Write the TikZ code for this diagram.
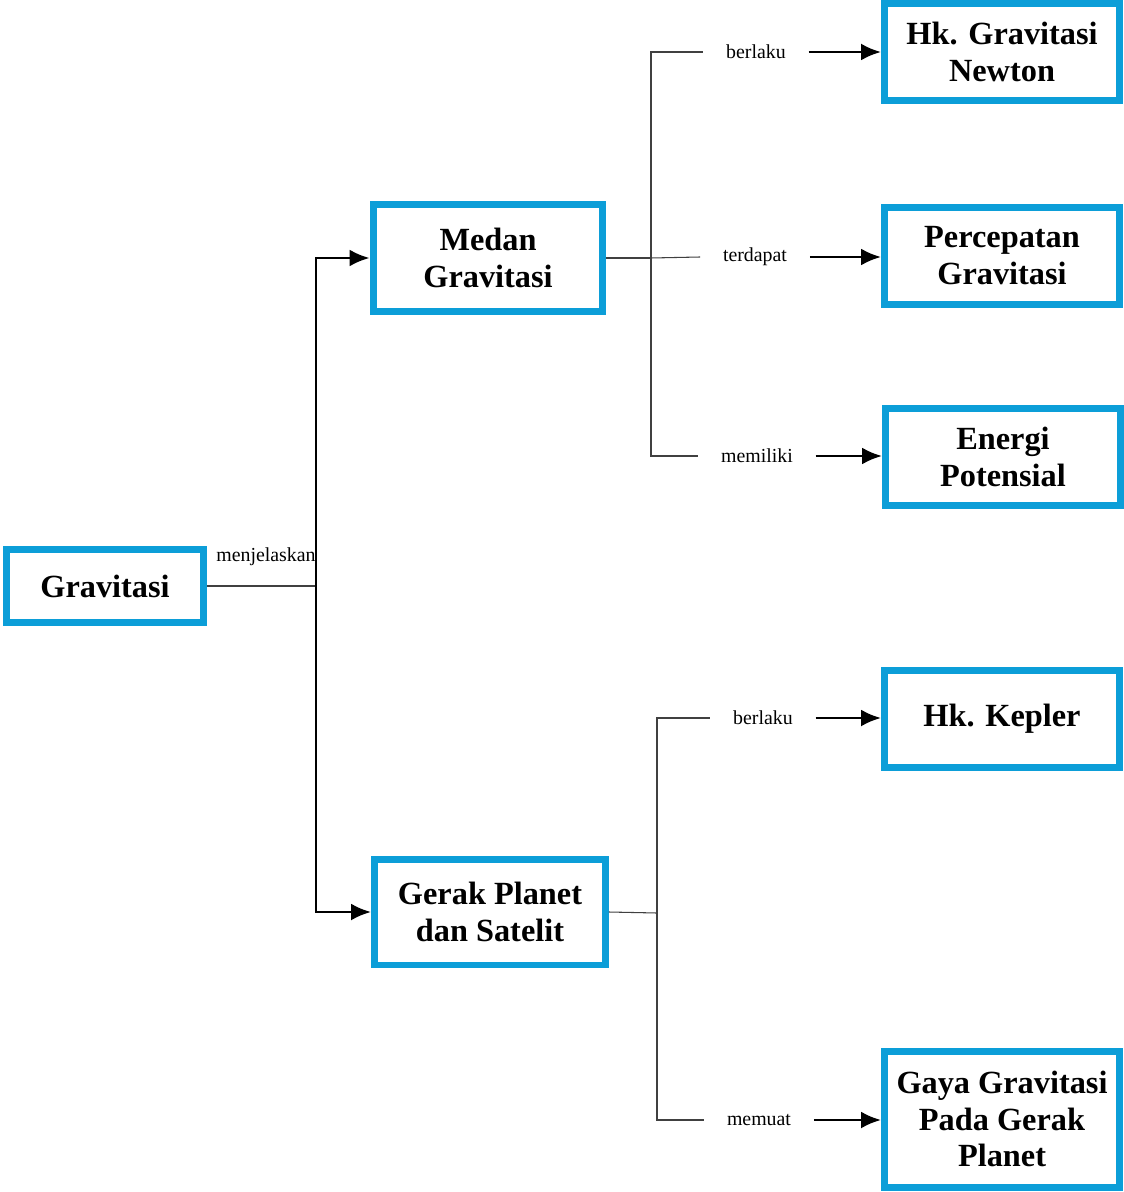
\documentclass[tikz,border=0pt]{standalone}
\usepackage{fontspec}
\setmainfont{Liberation Serif}
\usetikzlibrary{arrows.meta, calc}
\definecolor{boxblue}{RGB}{12,158,216}

\begin{document}
\begin{tikzpicture}[x=0.02cm, y=-0.02cm, >=Latex, line join=miter,
	konsep/.style={draw=boxblue, line width=0.14cm, fill=white, align=center,
		font=\fontsize{18.4}{21}\selectfont\bfseries, inner sep=0pt},
	kanan/.style={minimum width=4.7cm, minimum height=1.94cm},
	ket/.style={font=\fontsize{11.3}{13}\selectfont, inner xsep=0.45cm, inner ysep=2pt},
	garis/.style={draw=black!75, line width=0.6pt},
	panah/.style={-{Latex[length=0.4cm,width=0.34cm]}, line width=1.6pt}]

\useasboundingbox (0,0) rectangle (1124,1192);

% ================= concepts =================
\node[konsep, minimum width=3.94cm, minimum height=1.48cm] (grav) at (105,586) {Gravitasi};
\node[konsep, minimum width=4.6cm, minimum height=2.14cm] (medan) at (488,258) {Medan\\Gravitasi};
\node[konsep, minimum width=4.62cm, minimum height=2.12cm] (gerak) at (490,912) {Gerak Planet\\dan Satelit};

\node[konsep, kanan] (newton) at (1002,52) {Hk. Gravitasi\\Newton};
\node[konsep, kanan] (percepatan) at (1002,256) {Percepatan\\Gravitasi};
\node[konsep, kanan] (energi) at (1003,457) {Energi\\Potensial};
\node[konsep, kanan] (kepler) at (1002,719) {Hk. Kepler};
\node[konsep, kanan, minimum height=2.72cm] (gaya) at (1002,1119) {Gaya Gravitasi\\Pada Gerak\\Planet};

% ================= Gravitasi -> two branches =================
\coordinate (b1) at (316,586);
\draw[garis] (grav.east) -- (b1);
\node[font=\fontsize{11.3}{13}\selectfont] (lmenj) at (266,557) {menjelaskan};
\draw[panah] (b1) |- (medan.west);
\draw[panah] (b1) |- (gerak.west);

% ================= Medan Gravitasi =================
\coordinate (j1) at (651,258);
\node[ket] (l1) at (756,52) {berlaku};
\node[ket] (l2) at (755,257) {terdapat};
\node[ket] (l3) at (757,456) {memiliki};
\draw[garis] (medan.east) -- (j1);
\draw[garis] (j1) |- (l1.west);
\draw[garis] (j1) -- (l2.west);
\draw[garis] (j1) |- (l3.west);
\draw[panah] (l1.east) -- (l1.east -| newton.west);
\draw[panah] (l2.east) -- (l2.east -| percepatan.west);
\draw[panah] (l3.east) -- (l3.east -| energi.west);

% ================= Gerak Planet dan Satelit =================
\coordinate (j2) at (657,913);
\node[ket] (l4) at (763,718) {berlaku};
\node[ket] (l5) at (759,1120) {memuat};
\draw[garis] (gerak.east) -- (j2);
\draw[garis] (j2) |- (l4.west);
\draw[garis] (j2) |- (l5.west);
\draw[panah] (l4.east) -- (l4.east -| kepler.west);
\draw[panah] (l5.east) -- (l5.east -| gaya.west);

\end{tikzpicture}
\end{document}
